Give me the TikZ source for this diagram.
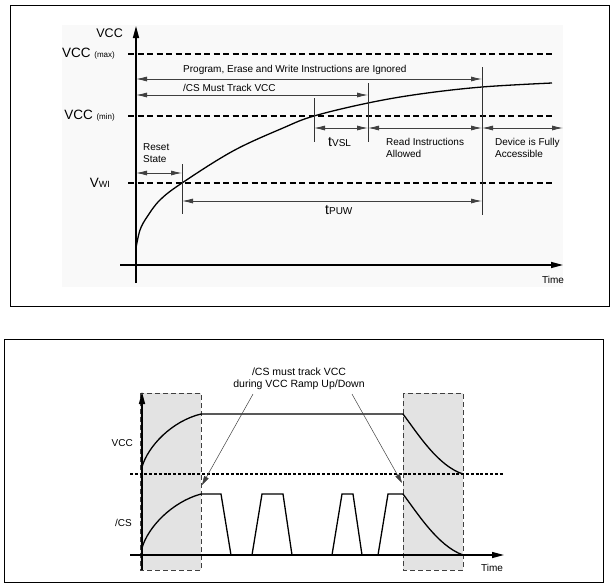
\documentclass[tikz,border=0pt]{standalone}
\usepackage{fontspec}
\setmainfont{Liberation Sans}
\usetikzlibrary{arrows.meta}
\newcommand{\sm}[1]{{\fontsize{9}{10}\selectfont #1}}
\begin{document}
\begin{tikzpicture}[x=1pt,y=-1pt,
	lbl/.style={font=\fontsize{10}{12}\selectfont,inner sep=0,align=left},
	big/.style={font=\fontsize{13.5}{15}\selectfont,inner sep=0},
	lvl/.style={dash pattern=on 6pt off 3.5pt,line width=1.3pt},
	dim/.style={{Latex[length=11pt,width=5pt]}-{Latex[length=11pt,width=5pt]},line width=0.8pt,black!75},
	tick/.style={line width=0.9pt,black!80},
	axis/.style={-{Triangle[length=12pt,width=6pt]},line width=1.4pt},
	sig/.style={line width=1.3pt},
	shade/.style={fill=black!11,draw=black!75,dash pattern=on 5pt off 3pt,line width=0.9pt},
	pointer/.style={-{Triangle[length=9pt,width=5pt]},line width=0.5pt,black!75}]
\useasboundingbox (0,0) rectangle (611,587);
\draw[line width=1pt] (10,5) rectangle (609.5,306);
\fill[black!2.5] (62,25) rectangle (563,287);
\draw[axis] (136,283) -- (136,26);
\draw[axis] (120,265) -- (563,265);
\node[big,anchor=east] (vaxis) at (123,33) {\fontsize{12.5}{14}\selectfont VCC};
\node[big,anchor=east] (vmax) at (115,54) {VCC \fontsize{8}{9}\selectfont(max)};
\node[big,anchor=east] (vmin) at (115,116) {VCC \fontsize{8}{9}\selectfont(min)};
\node[big,anchor=east] (vwi) at (110,183) {V\sm{WI}};
\draw[lvl] (128,54) -- (552,54);
\draw[lvl] (128,116) -- (552,116);
\draw[lvl] (128,183) -- (552,183);
\draw[sig] plot[smooth,tension=0.6] coordinates {(136,248) (140,230) (147,217) (160,200) (182,183) (233,151) (283,128) (314,116) (368,103) (420,94) (482,87) (552,83)};
\draw[tick] (182,164) -- (182,214);
\draw[tick] (314,98) -- (314,142);
\draw[tick] (368,83) -- (368,142);
\draw[tick] (482,67) -- (482,215);
\coordinate (pl) at (136,79); \coordinate (pr) at (482,79);
\coordinate (cl) at (136,95); \coordinate (cr) at (368,95);
\coordinate (rl) at (136,173); \coordinate (rr) at (182,173);
\coordinate (ul) at (182,201); \coordinate (ur) at (482,201);
\coordinate (s1) at (314,128); \coordinate (s2) at (368,128);
\coordinate (s3) at (482,128); \coordinate (s4) at (563,128);
\draw[dim] (pl) -- (pr);
\draw[dim] (cl) -- (cr);
\draw[dim] (rl) -- (rr);
\draw[dim] (ul) -- (ur);
\draw[dim] (s1) -- (s2);
\draw[dim] (s2) -- (s3);
\draw[dim] (s3) -- (s4);
\node[lbl,anchor=west] (ign) at (183,70) {Program, Erase and Write Instructions are Ignored};
\node[lbl,anchor=west] (trk) at (183,88) {/CS Must Track VCC};
\node[lbl,anchor=west] (rst) at (143,153) {Reset\\State};
\node[lbl,anchor=west] (tvsl) at (328,142) {{\fontsize{14}{14}\selectfont t}VSL};
\node[lbl,anchor=west] (rd) at (386,148) {Read Instructions\\Allowed};
\node[lbl,anchor=west] (dev) at (495,148) {Device is Fully\\Accessible};
\node[lbl,anchor=west] (tpuw) at (325,210) {{\fontsize{14}{14}\selectfont t}PUW};
\node[lbl,anchor=west] (time1) at (542,280) {Time};
\draw[line width=1pt] (4,339) rectangle (603,582);
\draw[shade] (140,393) rectangle (201,570);
\draw[shade] (403,393) rectangle (463,570);
\draw[axis] (142,570) -- (142,392);
\draw[axis] (130,555) -- (504,555);
\draw[line width=1.3pt,dash pattern=on 3pt off 1.8pt] (130,474) -- (504,474);
\draw[sig] (142,467) .. controls (148,446) and (172,421) .. (201,414) -- (403,414) .. controls (418,434) and (438,466) .. (463,474);
\draw[sig] (142,548) .. controls (148,527) and (172,502) .. (201,494) -- (221,494) -- (231,555);
\draw[sig] (252,555) -- (262,494) -- (283,494) -- (292,555);
\draw[sig] (332,555) -- (342,494) -- (353,494) -- (362,555);
\draw[sig] (378,555) -- (388,494) -- (403,494) .. controls (418,514) and (438,546) .. (463,555);
\node[lbl,anchor=east] (vcc) at (133,443) {VCC};
\node[lbl,anchor=east] (cs) at (132,523) {/CS};
\node[lbl,anchor=west] (time2) at (481,568) {Time};
\node[lbl,align=center,font=\fontsize{10.5}{12}\selectfont] (note) at (299,379) {/CS must track VCC\\during VCC Ramp Up/Down};
\coordinate (h1) at (202,485); \coordinate (h2) at (402,483);
\draw[pointer] ([xshift=-46pt,yshift=-4pt]note.south) -- (h1);
\draw[pointer] ([xshift=53pt,yshift=-4pt]note.south) -- (h2);
\end{tikzpicture}
\end{document}
